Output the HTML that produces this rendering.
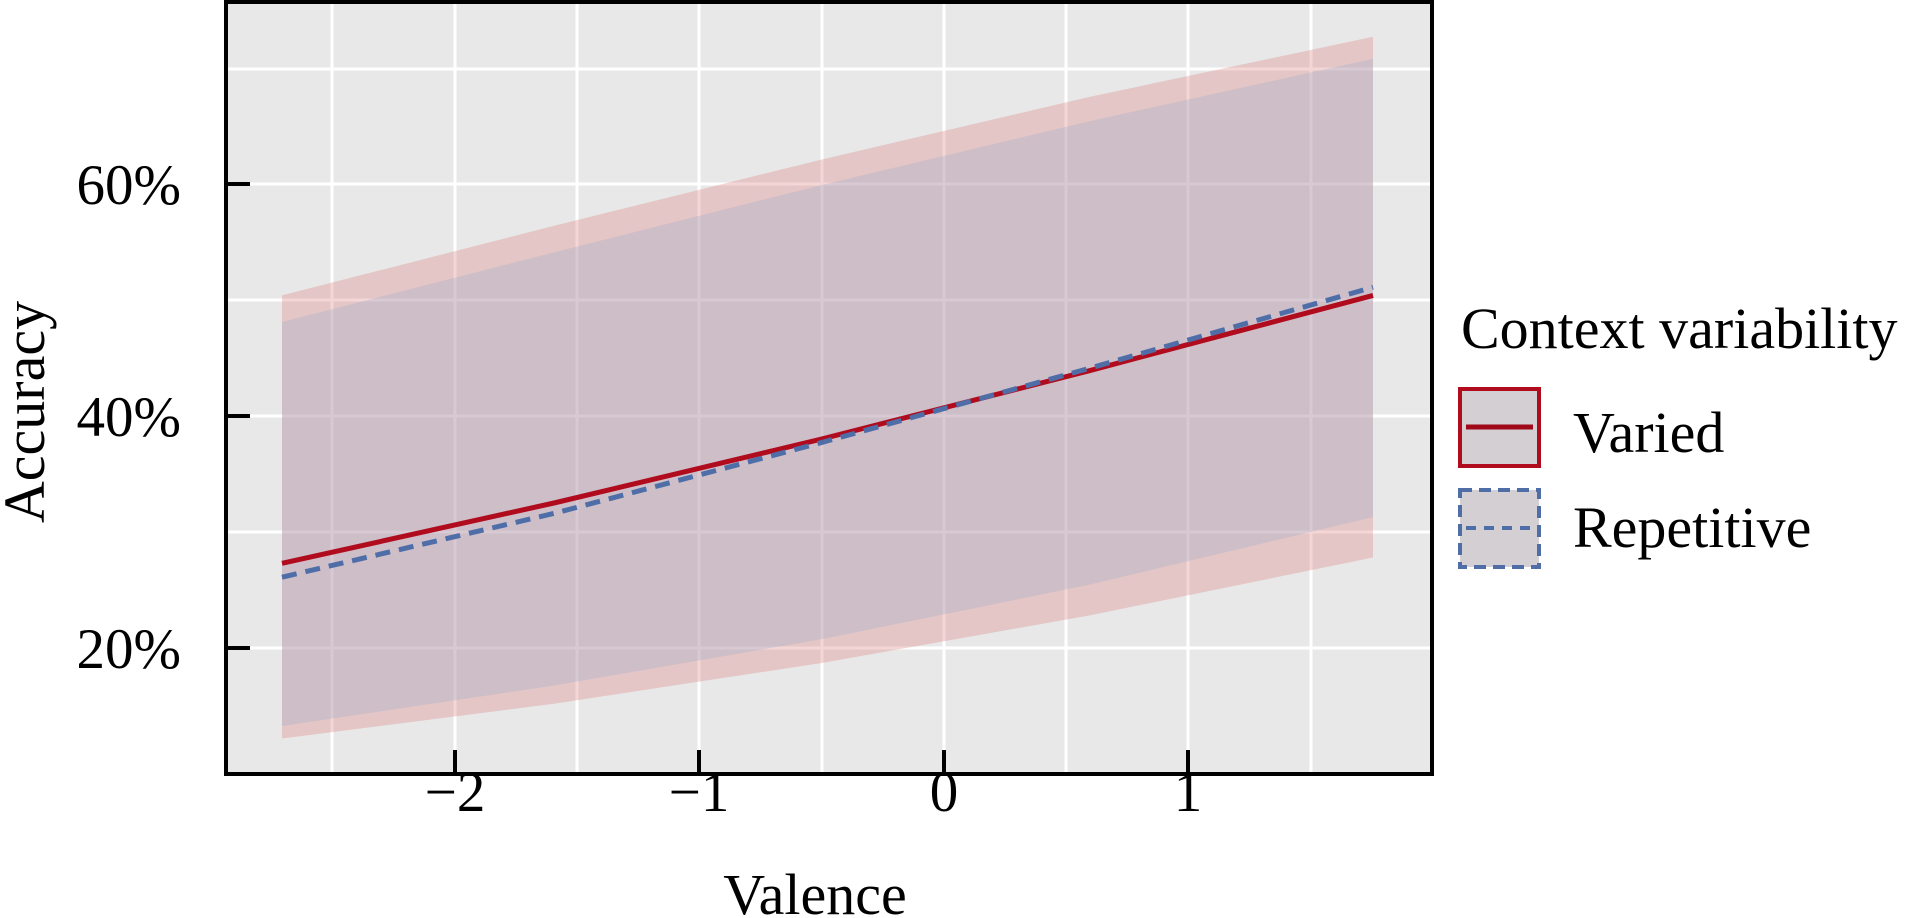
<!DOCTYPE html>
<html><head><meta charset="utf-8"><style>html,body{margin:0;padding:0;background:#fff}svg{display:block}text{font-family:"Liberation Serif",serif;fill:#000}</style></head>
<body>
<svg width="1931" height="918" viewBox="0 0 1931 918" xmlns="http://www.w3.org/2000/svg">
<rect x="226" y="2" width="1206" height="772" fill="#e8e8e8"/>
<g stroke="#fff" stroke-width="3">
<line x1="226" y1="69" x2="1432" y2="69"/><line x1="226" y1="184" x2="1432" y2="184"/>
<line x1="226" y1="300" x2="1432" y2="300"/><line x1="226" y1="416" x2="1432" y2="416"/>
<line x1="226" y1="532" x2="1432" y2="532"/><line x1="226" y1="648" x2="1432" y2="648"/>
<line x1="332" y1="2" x2="332" y2="774"/><line x1="455" y1="2" x2="455" y2="774"/>
<line x1="577" y1="2" x2="577" y2="774"/><line x1="699" y1="2" x2="699" y2="774"/>
<line x1="822" y1="2" x2="822" y2="774"/><line x1="944" y1="2" x2="944" y2="774"/>
<line x1="1066" y1="2" x2="1066" y2="774"/><line x1="1188" y1="2" x2="1188" y2="774"/>
<line x1="1311" y1="2" x2="1311" y2="774"/>
</g>
<polygon fill="rgb(220,120,120)" fill-opacity="0.3" points="282,295.4 554,225.8 821,159.7 1089,97 1373,36.7 1373,557.5 1089,615.5 821,663.1 554,703.7 282,738.5"/>
<polygon fill="rgb(151,171,205)" fill-opacity="0.3" points="282,322 554,252.4 821,185.2 1089,121.4 1373,58.7 1373,517 1089,584.8 821,639.3 554,685.5 282,726"/>
<polyline fill="none" stroke="#b00c1e" stroke-width="5" points="282,563.3 554,503 821,439.2 1089,370.8 1373,295.4"/>
<polyline fill="none" stroke="#4f6ea8" stroke-width="5" stroke-dasharray="15,9" points="282,577.2 554,513.4 821,442.7 1089,368.4 1373,287.2"/>
<rect x="226" y="2" width="1206" height="772" fill="none" stroke="#000" stroke-width="4"/>
<g stroke="#000" stroke-width="4">
<line x1="226" y1="184" x2="250" y2="184"/><line x1="226" y1="416" x2="250" y2="416"/><line x1="226" y1="648" x2="250" y2="648"/>
<line x1="455" y1="774" x2="455" y2="750"/><line x1="699" y1="774" x2="699" y2="750"/><line x1="944" y1="774" x2="944" y2="750"/><line x1="1188" y1="774" x2="1188" y2="750"/>
</g>
<g font-size="57" text-anchor="end">
<text x="181" y="204">60%</text><text x="181" y="436">40%</text><text x="181" y="668">20%</text>
</g>
<g font-size="57" text-anchor="middle">
<text x="455" y="811">−2</text><text x="699" y="811">−1</text><text x="944" y="811">0</text><text x="1188" y="811">1</text>
</g>
<text x="815" y="914" font-size="58" text-anchor="middle">Valence</text>
<text transform="translate(44,412) rotate(-90)" font-size="58" text-anchor="middle">Accuracy</text>
<text x="1461" y="348" font-size="58">Context variability</text>
<rect x="1460" y="389" width="79" height="77" fill="#d3cfd3" stroke="#b00c1e" stroke-width="4"/>
<line x1="1466" y1="427" x2="1533" y2="427" stroke="#a00a18" stroke-width="5"/>
<text x="1573" y="452" font-size="58">Varied</text>
<rect x="1460" y="490" width="79" height="77" fill="#d3cfd3" stroke="#4f6ea8" stroke-width="4" stroke-dasharray="12,7"/>
<line x1="1466" y1="528" x2="1533" y2="528" stroke="#4f6ea8" stroke-width="4" stroke-dasharray="10,8"/>
<text x="1573" y="547" font-size="58">Repetitive</text>
</svg>
</body></html>
